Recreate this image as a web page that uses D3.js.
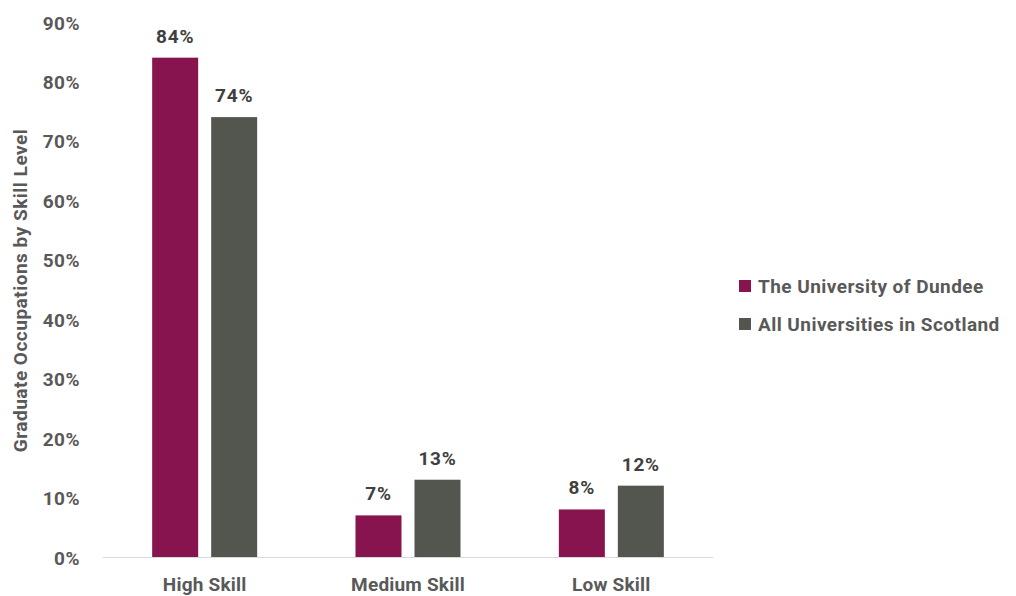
<!DOCTYPE html>
<html>
<head>
<meta charset="utf-8">
<script src="https://cdn.jsdelivr.net/npm/d3@7"></script>
<style>
  html, body { margin: 0; padding: 0; background: #fff; }
  svg { display: block; font-family: Roboto, "Noto Sans", sans-serif; }
</style>
</head>
<body>
<svg id="chart" width="1016" height="596"></svg>
<script>
// Graduate occupations by skill level
const categories = ["High Skill", "Medium Skill", "Low Skill"];
const seriesNames = ["The University of Dundee", "All Universities in Scotland"];
const dundeeValues = [84, 7, 8];
const scotlandValues = [74, 13, 12];
const yTicks = [0, 10, 20, 30, 40, 50, 60, 70, 80, 90];
const seriesColors = ["#87134f", "#53554f"];
const yTitle = "Graduate Occupations by Skill Level";

const series = [dundeeValues, scotlandValues];

const svg = d3.select("#chart");
const margin = { left: 103, right: 713, top: 22, bottom: 557 };

const x = d3.scaleBand().domain(categories).range([margin.left, margin.right]);
const y = d3.scaleLinear().domain([0, 90]).range([margin.bottom, margin.top]);

const barW = 46, gap = 13;

// baseline
svg.append("line")
  .attr("x1", margin.left).attr("x2", margin.right)
  .attr("y1", y(0) + 0.5).attr("y2", y(0) + 0.5)
  .attr("stroke", "#d9d9d9").attr("stroke-width", 1);

// y tick labels
svg.append("g").selectAll("text").data(yTicks).join("text")
  .attr("x", 80).attr("y", d => y(d)).attr("dy", "0.4em")
  .attr("text-anchor", "end")
  .attr("font-size", 19).attr("font-weight", 700).attr("fill", "#595959")
  .attr("letter-spacing", 0.5)
  .text(d => d + "%");

// y axis title
svg.append("text")
  .attr("transform", `translate(27,${(y(0) + y(90)) / 2 + 1}) rotate(-90)`)
  .attr("text-anchor", "middle")
  .attr("font-size", 19).attr("font-weight", 700).attr("fill", "#595959")
  .attr("letter-spacing", 0.5)
  .text(yTitle);

// category labels
svg.append("g").selectAll("text").data(categories).join("text")
  .attr("x", d => x(d) + x.bandwidth() / 2).attr("y", 591)
  .attr("text-anchor", "middle")
  .attr("font-size", 19).attr("font-weight", 700).attr("fill", "#595959")
  .attr("letter-spacing", 0.2)
  .text(d => d);

// bars and value labels
series.forEach((vals, si) => {
  const offset = si === 0 ? -(gap / 2 + barW) : gap / 2;
  const g = svg.append("g");
  g.selectAll("rect").data(vals).join("rect")
    .attr("x", (d, i) => x(categories[i]) + x.bandwidth() / 2 + offset)
    .attr("y", d => y(d))
    .attr("width", barW)
    .attr("height", d => y(0) - y(d))
    .attr("fill", seriesColors[si]);
  g.selectAll("text").data(vals).join("text")
    .attr("x", (d, i) => x(categories[i]) + x.bandwidth() / 2 + offset + barW / 2)
    .attr("y", d => y(d) - 15)
    .attr("text-anchor", "middle")
    .attr("font-size", 19).attr("font-weight", 700).attr("fill", "#404040")
    .attr("letter-spacing", 0.8)
    .text(d => d + "%");
});

// legend
const legend = svg.append("g").selectAll("g").data(seriesNames).join("g")
  .attr("transform", (d, i) => `translate(739,${280 + i * 38})`);
legend.append("rect")
  .attr("width", 12).attr("height", 12)
  .attr("fill", (d, i) => seriesColors[i]);
legend.append("text")
  .attr("x", 19).attr("y", 6).attr("dy", "0.38em")
  .attr("font-size", 19).attr("font-weight", 700).attr("fill", "#595959")
  .attr("letter-spacing", 0.45)
  .text(d => d);
</script>
</body>
</html>
